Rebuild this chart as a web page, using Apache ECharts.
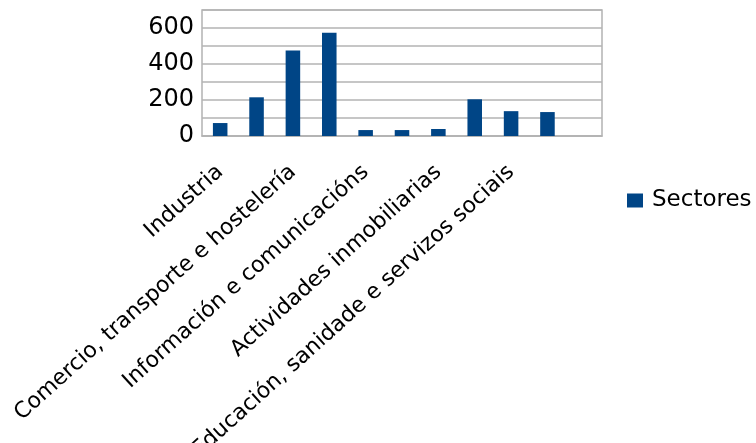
<!DOCTYPE html>
<html>
<head>
<meta charset="utf-8">
<script src="https://cdn.jsdelivr.net/npm/echarts@6/dist/echarts.min.js"></script>
<style>
html,body{margin:0;padding:0;background:#fff;}
#chart{width:756px;height:443px;}
</style>
</head>
<body>
<div id="chart"></div>
<script>
const categories = [
  "Industria",
  "Construción",
  "Comercio, transporte e hostelería",
  "Transporte e almacenamento",
  "Información e comunicacións",
  "Actividades financeiras e de seguros",
  "Actividades inmobiliarias",
  "Actividades profesionais, científicas e técnicas",
  "Educación, sanidade e servizos sociais",
  "Outros servizos",
  ""
];
const seriesName = "Sectores";
const values = [72, 215, 475, 574, 33, 33, 39, 204, 138, 133, null];
const yTickLabels = [0, 200, 400, 600];

const FONT = "DejaVu Sans";
const chart = echarts.init(document.getElementById('chart'), null, {renderer: 'canvas'});
chart.setOption({
  animation: false,
  backgroundColor: '#ffffff',
  textStyle: {fontFamily: FONT},
  grid: {left: 202, right: 154, top: 10, bottom: 307, show: true, borderColor: '#b3b3b3', borderWidth: 1.5, containLabel: false, outerBoundsMode: 'none'},
  legend: {
    show: true, data: [seriesName], left: 622, top: 184, orient: 'vertical',
    itemWidth: 16, itemHeight: 14, icon: 'rect', itemGap: 4,
    textStyle: {fontFamily: FONT, fontSize: 23, color: '#000', padding: [0,0,0,4]}
  },
  xAxis: {
    type: 'category', data: categories, boundaryGap: true,
    axisLine: {show: true, lineStyle: {color: '#b3b3b3', width: 1.5}},
    axisTick: {show: false},
    splitLine: {show: false},
    axisLabel: {rotate: 42, interval: 1, margin: 33, fontFamily: FONT, fontSize: 22, color: '#000'}
  },
  yAxis: {
    type: 'value', min: 0, max: 700, interval: 100,
    axisLine: {show: false},
    axisTick: {show: false},
    splitLine: {show: true, lineStyle: {color: '#b3b3b3', width: 1.5}},
    axisLabel: {
      margin: 8, fontFamily: FONT, fontSize: 24, color: '#000', padding: [5, 0, 0, 0],
      formatter: function (v) { return yTickLabels.indexOf(v) >= 0 ? String(v) : ''; }
    }
  },
  series: [{
    name: seriesName, type: 'bar', data: values, barWidth: '40%',
    itemStyle: {color: '#004586'}
  }]
});
</script>
</body>
</html>
